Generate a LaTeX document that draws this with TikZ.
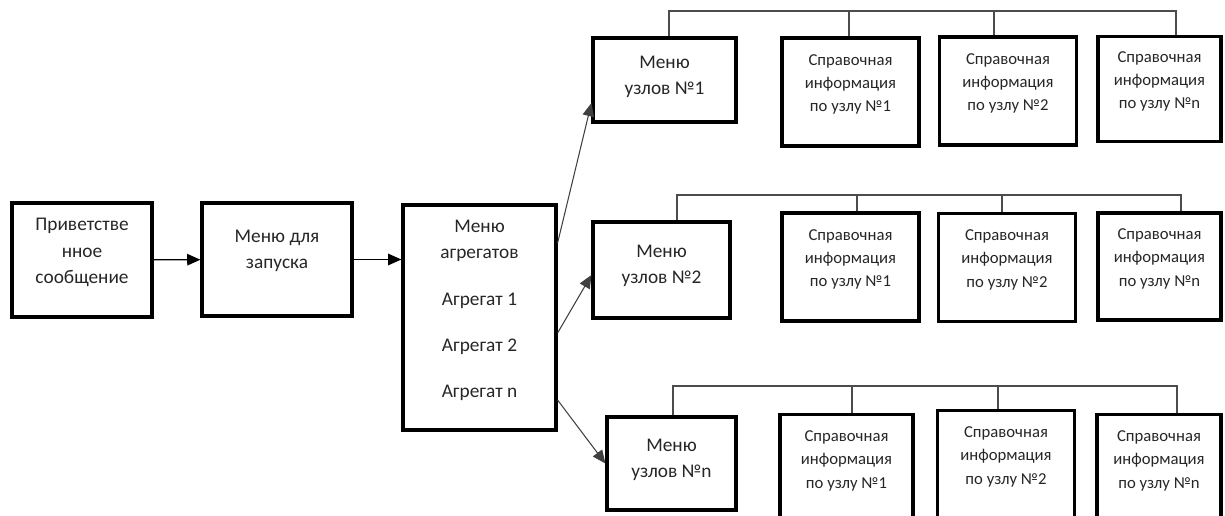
\documentclass[tikz,border=0pt]{standalone}
\usepackage{fontspec}
\setmainfont{Carlito}
\usetikzlibrary{arrows.meta}

\begin{document}
\begin{tikzpicture}[
    box/.style={rectangle, draw, line width=1.8pt, align=center, inner sep=0pt, text=black!85, font=\fontsize{11}{15}\selectfont},
    info/.style={box, minimum width=2.74cm, minimum height=2.16cm, text depth=0.36cm, font=\fontsize{9.5}{13.3}\selectfont},
    bus/.style={draw=black!70, line width=0.6pt},
    link/.style={->, draw=black!75, line width=0.6pt},
    >={Triangle[length=7.5pt,width=6.5pt]}
  ]
  \useasboundingbox (0,0) rectangle (24.5,10.3);
  \clip (0,0) rectangle (24.5,10.3);

  % Left chain
  \node[box, minimum width=2.8cm, minimum height=2.28cm, text depth=0.36cm] (greet) at (1.64,5.10) {Приветстве\\нное\\сообщение};
  \node[box, minimum width=3.0cm, minimum height=2.26cm, text depth=0.42cm] (launch) at (5.54,5.11) {Меню для\\запуска};
  \node[box, minimum width=3.06cm, minimum height=4.5cm, text depth=0.36cm] (agg) at (9.59,3.95) {Меню\\агрегатов\\[12pt]Агрегат 1\\[11pt]Агрегат 2\\[11pt]Агрегат n};

  % Node menus
  \node[box, minimum width=2.86cm, minimum height=1.68cm, text depth=0.2cm] (menuA) at (13.29,8.70) {Меню\\узлов №1};
  \node[box, minimum width=2.74cm, minimum height=1.92cm, text depth=0.24cm] (menuB) at (13.23,4.90) {Меню\\узлов №2};
  \node[box, minimum width=2.58cm, minimum height=1.86cm, text depth=0.2cm] (menuN) at (13.43,1.03) {Меню\\узлов №n};

  % Reference boxes, first row
  \node[info] (infoA1) at (17.01,8.46) {Справочная\\информация\\по узлу №1};
  \node[info] (infoA2) at (20.16,8.48) {Справочная\\информация\\по узлу №2};
  \node[info, minimum width=2.46cm, minimum height=2.1cm] (infoAn) at (23.19,8.52) {Справочная\\информация\\по узлу №n};

  % second row
  \node[info] (infoB1) at (17.01,4.96) {Справочная\\информация\\по узлу №1};
  \node[info] (infoB2) at (20.14,4.95) {Справочная\\информация\\по узлу №2};
  \node[info, minimum width=2.46cm, minimum height=2.14cm] (infoBn) at (23.19,4.97) {Справочная\\информация\\по узлу №n};

  % third row
  \node[info, minimum width=2.66cm] (infoC1) at (16.93,0.93) {Справочная\\информация\\по узлу №1};
  \node[info] (infoC2) at (20.12,1.01) {Справочная\\информация\\по узлу №2};
  \node[info, minimum width=2.48cm] (infoCn) at (23.18,0.93) {Справочная\\информация\\по узлу №n};

  % Bus lines above each row
  \coordinate (busA) at (18,10.08);
  \coordinate (busB) at (18,6.40);
  \coordinate (busC) at (18,2.58);

  \draw[bus] ([xshift=0.09cm]menuA.north) |- (busA) -| ([xshift=0.33cm]infoAn.north);
  \draw[bus] ([xshift=-0.03cm]infoA1.north) |- (busA);
  \draw[bus] ([xshift=-0.28cm]infoA2.north) |- (busA);

  \draw[bus] ([xshift=0.31cm]menuB.north) |- (busB) -| ([xshift=0.43cm]infoBn.north);
  \draw[bus] ([xshift=0.13cm]infoB1.north) |- (busB);
  \draw[bus] ([xshift=-0.10cm]infoB2.north) |- (busB);

  \draw[bus] ([xshift=0.03cm]menuN.north) |- (busC) -| ([xshift=0.36cm]infoCn.north);
  \draw[bus] ([xshift=0.11cm]infoC1.north) |- (busC);
  \draw[bus] ([xshift=-0.16cm]infoC2.north) |- (busC);

  % Arrows
  \draw[->, line width=0.75pt] (greet) -- (launch);
  \draw[->, line width=0.75pt] (launch) -- (launch -| agg.west);
  \draw[link] ([yshift=1.49cm]agg.east) -- ([yshift=-0.46cm]menuA.west);
  \draw[link] ([yshift=-0.31cm]agg.east) -- ([yshift=-0.1cm]menuB.west);
  \draw[link] ([yshift=-1.65cm]agg.east) -- (menuN.west);
\end{tikzpicture}
\end{document}
